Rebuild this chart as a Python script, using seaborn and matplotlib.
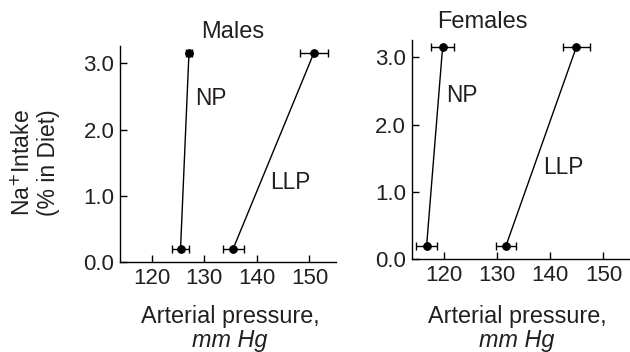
import matplotlib
matplotlib.use("Agg")
import matplotlib.pyplot as plt
import seaborn as sns
import pandas as pd

sns.set_style("ticks")
plt.rcParams['font.family'] = ['Liberation Sans', 'DejaVu Sans']

TXT = "#231f20"

# Data
na_intake = [0.2, 3.15]
male_np = [125.5, 127.1]
male_np_err = [1.7, 0.65]
male_llp = [135.5, 150.8]
male_llp_err = [2.0, 2.65]
female_np = [116.8, 119.8]
female_np_err = [2.0, 2.2]
female_llp = [131.7, 144.9]
female_llp_err = [1.9, 2.5]
x_ticks = [120, 130, 140, 150]
y_ticks = [0.0, 1.0, 2.0, 3.0]

fig = plt.figure(figsize=(6.3, 3.52), dpi=100)
ax_m = fig.add_axes([0.1905, 0.2557, 0.3425, 0.6133])
ax_f = fig.add_axes([0.6535, 0.2634, 0.3465, 0.6230])

panels = [
    (ax_m, male_np, male_np_err, male_llp, male_llp_err,
     (128.3, 2.47), (142.6, 1.2)),
    (ax_f, female_np, female_np_err, female_llp, female_llp_err,
     (120.5, 2.43), (138.6, 1.36)),
]

for ax, np_x, np_e, llp_x, llp_e, np_pos, llp_pos in panels:
    for xs, es, name, pos in [(np_x, np_e, "NP", np_pos), (llp_x, llp_e, "LLP", llp_pos)]:
        df = pd.DataFrame({"pressure": xs, "na": na_intake})
        sns.lineplot(data=df, x="pressure", y="na", sort=False, estimator=None,
                     color="black", lw=1.0, marker="o", markersize=5.5,
                     markeredgecolor="black", ax=ax)
        ax.errorbar(xs, na_intake, xerr=es, fmt="none", ecolor="black",
                    elinewidth=1.0, capsize=3, capthick=1.0)
        ax.text(pos[0], pos[1], name, ha="left", va="center", fontsize=16.3, color=TXT)
    ax.set_xlim(114, 155)
    ax.set_ylim(0, 3.26)
    ax.set_xticks(x_ticks)
    ax.set_yticks(y_ticks)
    ax.set_yticklabels([f"{v:.1f}" for v in y_ticks])
    ax.set_xlabel("")
    ax.set_ylabel("")
    ax.tick_params(direction="in", length=5, width=1, labelsize=16,
                   colors="black", labelcolor=TXT, pad=4)
    for s in ["top", "right"]:
        ax.spines[s].set_visible(False)
    for s in ["left", "bottom"]:
        ax.spines[s].set_linewidth(1.0)
        ax.spines[s].set_color("black")

fig.text(233 / 630, 1 - 32 / 352, "Males", ha="center", va="center", fontsize=17, color=TXT)
fig.text(482 / 630, 1 - 22 / 352, "Females", ha="center", va="center", fontsize=17, color=TXT)

for cx in (230, 517):
    fig.text(cx / 630, 1 - 316 / 352, "Arterial pressure,", ha="center", va="center",
             fontsize=16.8, color=TXT)
    fig.text(cx / 630, 1 - 341 / 352, "mm Hg", ha="center", va="center",
             fontsize=16.8, color=TXT, style="italic")

fig.text(36 / 630, 1 - 163 / 352, "Na$^{+}$Intake\n(% in Diet)", ha="center", va="center",
         rotation=90, fontsize=16.5, color=TXT, multialignment="center", linespacing=1.1)

fig.savefig("out.png", dpi=100)
